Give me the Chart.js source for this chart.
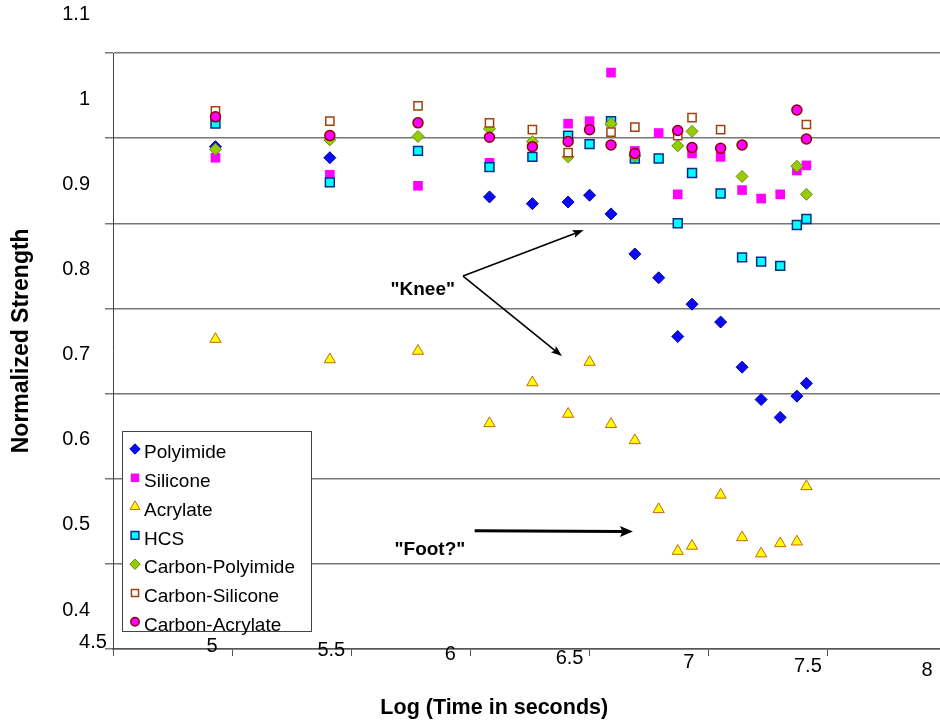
<!DOCTYPE html>
<html><head><meta charset="utf-8">
<script src="https://cdn.jsdelivr.net/npm/chart.js@4/dist/chart.umd.min.js"></script>
<style>
html,body{margin:0;padding:0;overflow:hidden;background:#fff;width:940px;height:725px}
#wrap{position:absolute;left:0;top:0;width:960px;height:725px}
</style>
</head><body><div id="wrap"><canvas id="c" width="960" height="725"></canvas></div>
<script>
// ---- data ----
const xTicks = [4.5, 5, 5.5, 6, 6.5, 7, 7.5, 8];
const xTickLabels = ['4.5', '5', '5.5', '6', '6.5', '7', '7.5', '8'];
const yTicks = [0.4, 0.5, 0.6, 0.7, 0.8, 0.9, 1.0, 1.1];
const yTickLabels = ['0.4', '0.5', '0.6', '0.7', '0.8', '0.9', '1', '1.1'];

const polyimideX = [4.93,5.41,6.08,6.26,6.41,6.50,6.59,6.69,6.79,6.87,6.93,7.05,7.14,7.22,7.30,7.37,7.41];
const polyimideY = [0.990,0.977,0.931,0.923,0.925,0.933,0.911,0.864,0.836,0.767,0.805,0.784,0.731,0.693,0.672,0.697,0.712];

const siliconeX = [4.93,5.41,5.78,6.08,6.41,6.50,6.59,6.69,6.79,6.87,6.93,7.05,7.14,7.22,7.30,7.37,7.41];
const siliconeY = [0.977,0.957,0.944,0.971,1.017,1.020,1.077,0.985,1.006,0.934,0.982,0.978,0.939,0.929,0.934,0.962,0.968];

const acrylateX = [4.93,5.41,5.78,6.08,6.26,6.41,6.50,6.59,6.69,6.79,6.87,6.93,7.05,7.14,7.22,7.30,7.37,7.41];
const acrylateY = [0.764,0.740,0.750,0.665,0.713,0.676,0.737,0.664,0.645,0.564,0.515,0.521,0.581,0.531,0.512,0.524,0.526,0.591];

const hcsX = [4.93,5.41,5.78,6.08,6.26,6.41,6.50,6.59,6.69,6.79,6.87,6.93,7.05,7.14,7.22,7.30,7.37,7.41];
const hcsY = [1.017,0.948,0.985,0.966,0.978,1.003,0.993,1.020,0.976,0.976,0.900,0.959,0.935,0.860,0.855,0.850,0.898,0.905];

const carbonPolyimideX = [4.93,5.41,5.78,6.08,6.26,6.41,6.59,6.69,6.87,6.93,7.14,7.37,7.41];
const carbonPolyimideY = [0.987,0.998,1.002,1.011,0.996,0.978,1.017,0.979,0.991,1.008,0.955,0.967,0.934];

const carbonSiliconeX = [4.93,5.41,5.78,6.08,6.26,6.41,6.59,6.69,6.87,6.93,7.05,7.41];
const carbonSiliconeY = [1.032,1.020,1.038,1.018,1.010,0.983,1.007,1.013,1.003,1.024,1.010,1.016];

const carbonAcrylateX = [4.93,5.41,5.78,6.08,6.26,6.41,6.50,6.59,6.69,6.87,6.93,7.05,7.14,7.37,7.41];
const carbonAcrylateY = [1.025,1.003,1.018,1.001,0.990,0.996,1.010,0.992,0.982,1.009,0.989,0.988,0.992,1.033,0.999];

// annotation anchor points (data coordinates)
const kneeLabel = [5.80, 0.822];
const kneeOrigin = [5.969, 0.838];
const kneeTargets = [[6.475, 0.892], [6.384, 0.744]];
const footLabel = [5.83, 0.516];
const footOrigin = [6.018, 0.539];
const footTarget = [6.682, 0.538];

// ---- build ----
const FONT = "'Liberation Sans', Arial, sans-serif";
const zip = (xs, ys) => xs.map((x, i) => ({x, y: ys[i]}));

const seriesDefs = [
  {label: 'Polyimide', xs: polyimideX, ys: polyimideY, pointStyle: 'rectRot', radius: 6, bg: '#0a0af5', bd: '#0000a0', bw: 1},
  {label: 'Silicone', xs: siliconeX, ys: siliconeY, pointStyle: 'rect', radius: 6.8, bg: '#ff00ff', bd: '#ff00ff', bw: 0},
  {label: 'Acrylate', xs: acrylateX, ys: acrylateY, pointStyle: 'triangle', radius: 6.5, bg: '#ffff00', bd: '#c86414', bw: 1},
  {label: 'HCS', xs: hcsX, ys: hcsY, pointStyle: 'rect', radius: 6.3, bg: '#00ffff', bd: '#0a2a8a', bw: 1.5},
  {label: 'Carbon-Polyimide', xs: carbonPolyimideX, ys: carbonPolyimideY, pointStyle: 'rectRot', radius: 6, bg: '#99cc00', bd: '#5f8f1f', bw: 1},
  {label: 'Carbon-Silicone', xs: carbonSiliconeX, ys: carbonSiliconeY, pointStyle: 'rect', radius: 5.8, bg: '#ffffff', bd: '#a0410f', bw: 1.5},
  {label: 'Carbon-Acrylate', xs: carbonAcrylateX, ys: carbonAcrylateY, pointStyle: 'circle', radius: 5, bg: '#ff00ff', bd: '#8b0000', bw: 1.5}
];

const datasets = seriesDefs.map((s, i) => ({
  label: s.label,
  data: zip(s.xs, s.ys),
  pointStyle: s.pointStyle,
  pointRadius: s.radius,
  pointBackgroundColor: s.bg,
  pointBorderColor: s.bd,
  pointBorderWidth: s.bw,
  showLine: false,
  order: seriesDefs.length - 1 - i
}));

function drawMarker(ctx, s, x, y) {
  ctx.save();
  ctx.fillStyle = s.bg; ctx.strokeStyle = s.bd; ctx.lineWidth = s.bw;
  if (Chart.helpers && Chart.helpers.drawPoint) {
    Chart.helpers.drawPoint(ctx, {pointStyle: s.pointStyle, radius: s.radius - 0.8, rotation: 0, borderWidth: s.bw}, x, y);
  } else {
    ctx.beginPath(); ctx.arc(x, y, s.radius, 0, Math.PI * 2); ctx.fill(); if (s.bw) ctx.stroke();
  }
  ctx.restore();
}

function arrow(ctx, x1, y1, x2, y2, lw, headLen, headW) {
  const a = Math.atan2(y2 - y1, x2 - x1);
  const bx = x2 - Math.cos(a) * headLen * 0.8, by = y2 - Math.sin(a) * headLen * 0.8;
  ctx.save();
  ctx.strokeStyle = '#000'; ctx.fillStyle = '#000'; ctx.lineWidth = lw; ctx.lineCap = 'butt';
  ctx.beginPath(); ctx.moveTo(x1, y1); ctx.lineTo(bx, by); ctx.stroke();
  const px = -Math.sin(a), py = Math.cos(a);
  const hx = x2 - Math.cos(a) * headLen, hy = y2 - Math.sin(a) * headLen;
  ctx.beginPath();
  ctx.moveTo(x2, y2);
  ctx.lineTo(hx + px * headW, hy + py * headW);
  ctx.lineTo(bx, by);
  ctx.lineTo(hx - px * headW, hy - py * headW);
  ctx.closePath(); ctx.fill();
  ctx.restore();
}

const decor = {
  id: 'decor',
  afterDraw(chart) {
    const {ctx, chartArea: ca, scales: {x, y}} = chart;
    ctx.save();
    // x tick labels (stepping down slightly, offset left of tick)
    ctx.fillStyle = '#000';
    ctx.font = '20px ' + FONT;
    ctx.textAlign = 'center'; ctx.textBaseline = 'middle';
    xTicks.forEach((v, i) => {
      ctx.fillText(xTickLabels[i], x.getPixelForValue(v) - 20, ca.bottom - 7 + i * 4);
    });
    // axis titles
    ctx.font = 'bold 21.5px ' + FONT;
    ctx.fillText('Log (Time in seconds)', x.getPixelForValue(6.10), ca.bottom + 59);
    ctx.save();
    ctx.font = 'bold 23px ' + FONT;
    ctx.translate(22, y.getPixelForValue(0.762));
    ctx.rotate(-Math.PI / 2);
    ctx.fillText('Normalized Strength', 0, 0);
    ctx.restore();

    // annotations
    ctx.font = 'bold 19px ' + FONT;
    ctx.fillText('"Knee"', x.getPixelForValue(kneeLabel[0]), y.getPixelForValue(kneeLabel[1]));
    ctx.fillText('"Foot?"', x.getPixelForValue(footLabel[0]), y.getPixelForValue(footLabel[1]));
    const ox = x.getPixelForValue(kneeOrigin[0]), oy = y.getPixelForValue(kneeOrigin[1]);
    kneeTargets.forEach(t => arrow(ctx, ox, oy, x.getPixelForValue(t[0]), y.getPixelForValue(t[1]), 1.6, 11, 4));
    arrow(ctx, x.getPixelForValue(footOrigin[0]), y.getPixelForValue(footOrigin[1]),
          x.getPixelForValue(footTarget[0]), y.getPixelForValue(footTarget[1]), 3, 13, 5.5);

    // legend
    const lx = ca.left + 9, ly = ca.bottom - 218, lw = 189, lh = 200;
    ctx.fillStyle = '#fff';
    ctx.fillRect(lx, ly, lw, lh);
    ctx.strokeStyle = '#444'; ctx.lineWidth = 1;
    ctx.strokeRect(lx + 0.5, ly + 0.5, lw, lh);
    ctx.font = '19px ' + FONT;
    ctx.textAlign = 'left'; ctx.textBaseline = 'middle';
    seriesDefs.forEach((s, i) => {
      const ry = ly + 22 + i * 28.8;
      drawMarker(ctx, s, lx + 13, ry - 4);
      ctx.fillStyle = '#000';
      ctx.fillText(s.label, lx + 22, ry);
    });
    ctx.restore();
  }
};

new Chart(document.getElementById('c'), {
  type: 'scatter',
  data: {datasets},
  options: {
    responsive: false,
    animation: false,
    layout: {padding: {top: 53, right: 13, left: 0, bottom: 0}},
    plugins: {legend: {display: false}, tooltip: {enabled: false}, title: {display: false}},
    scales: {
      x: {
        type: 'linear', min: 4.5, max: 8,
        afterBuildTicks: s => { s.ticks = xTicks.map(v => ({value: v})); },
        afterFit: s => { s.height = 76; },
        ticks: {display: false},
        grid: {drawOnChartArea: false, drawTicks: true, tickLength: 7, color: '#555', lineWidth: 1},
        border: {color: '#555', width: 1.5}
      },
      y: {
        type: 'linear', min: 0.4, max: 1.1,
        afterBuildTicks: s => { s.ticks = yTicks.map(v => ({value: v})); },
        afterFit: s => { s.width = 113; },
        ticks: {
          labelOffset: -39, padding: 15, color: '#000',
          font: {family: FONT, size: 20},
          callback: (v, i) => yTickLabels[i]
        },
        grid: {color: '#777', lineWidth: 1.5, tickLength: 8, drawTicks: true},
        border: {color: '#444', width: 1}
      }
    }
  },
  plugins: [decor]
});
</script>
</body></html>
